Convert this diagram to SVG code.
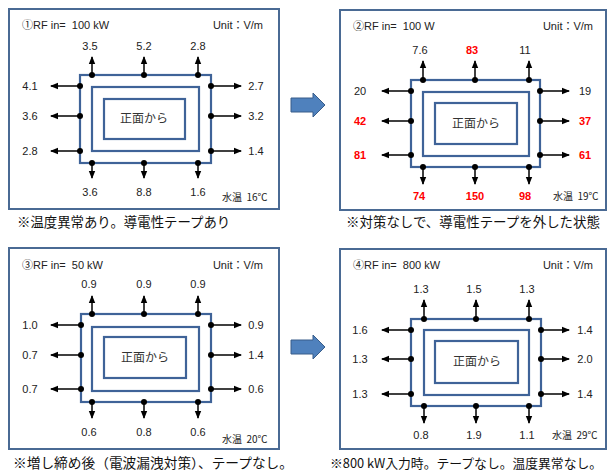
<svg xmlns="http://www.w3.org/2000/svg" width="607" height="473" viewBox="0 0 607 473">
<defs>
<marker id="ah" viewBox="0 0 8 8" refX="7" refY="4" markerWidth="8" markerHeight="8" markerUnits="userSpaceOnUse" orient="auto">
<path d="M0,0.8 L8,4 L0,7.2 Z" fill="#000"/>
</marker>
<style>
.frame{fill:#fff;stroke:#4a6a94;stroke-width:2}
.box{fill:none;stroke:#3f6398;stroke-width:2.2}
.ln{stroke:#000;stroke-width:1.5;fill:none;marker-end:url(#ah)}
.dot{fill:#000}
.t{font-family:"Liberation Sans","Noto Sans CJK JP",sans-serif;font-size:11px;fill:#222;white-space:pre}
.n{font-family:"Liberation Sans","Noto Sans CJK JP",sans-serif;font-size:11px;fill:#222;text-anchor:middle}
.r{fill:#ff0000;font-weight:bold}
.jp{font-family:"Noto Sans CJK JP",sans-serif;font-size:12px;fill:#333;text-anchor:middle}
.cap{font-family:"Noto Sans CJK JP",sans-serif;font-size:13.4px;fill:#111}
.w{font-family:"Noto Sans CJK JP",sans-serif;font-size:10px;fill:#222;white-space:pre}
.big{fill:#4f81bd;stroke:#385d8a;stroke-width:1}
</style>
</defs>
<rect width="607" height="473" fill="#fff"/>

<g id="panel1">
<rect class="frame" x="9" y="9" width="270" height="200"/>
<text class="t" x="22" y="29">①RF in=  100 kW</text>
<text class="t" x="263" y="29" text-anchor="end">Unit：V/m</text>
<rect class="box" x="80" y="75" width="131" height="88"/>
<rect class="box" x="92" y="87" width="107" height="64"/>
<rect class="box" x="104" y="99" width="81" height="40"/>
<text class="jp" x="144" y="123">正面から</text>
<g class="conn">
<line class="ln" x1="92" y1="75" x2="92" y2="57"/><line class="ln" x1="144" y1="75" x2="144" y2="57"/><line class="ln" x1="198" y1="75" x2="198" y2="57"/>
<line class="ln" x1="80" y1="86" x2="51" y2="86"/><line class="ln" x1="80" y1="116" x2="51" y2="116"/><line class="ln" x1="80" y1="151" x2="51" y2="151"/>
<line class="ln" x1="211" y1="86" x2="241" y2="86"/><line class="ln" x1="211" y1="116" x2="241" y2="116"/><line class="ln" x1="211" y1="151" x2="241" y2="151"/>
<line class="ln" x1="92" y1="163" x2="92" y2="178"/><line class="ln" x1="144" y1="163" x2="144" y2="178"/><line class="ln" x1="198" y1="163" x2="198" y2="178"/>
</g>
<g class="dot">
<circle cx="92" cy="75" r="3"/><circle cx="144" cy="75" r="3"/><circle cx="198" cy="75" r="3"/>
<circle cx="80" cy="86" r="3"/><circle cx="80" cy="116" r="3"/><circle cx="80" cy="151" r="3"/>
<circle cx="211" cy="86" r="3"/><circle cx="211" cy="116" r="3"/><circle cx="211" cy="151" r="3"/>
<circle cx="92" cy="163" r="3"/><circle cx="144" cy="163" r="3"/><circle cx="198" cy="163" r="3"/>
</g>
<text class="n" x="90" y="50">3.5</text><text class="n" x="144" y="50">5.2</text><text class="n" x="198" y="50">2.8</text>
<text class="n" x="30" y="90">4.1</text><text class="n" x="30" y="120">3.6</text><text class="n" x="30" y="155">2.8</text>
<text class="n" x="256" y="90">2.7</text><text class="n" x="256" y="120">3.2</text><text class="n" x="256" y="155">1.4</text>
<text class="n" x="90" y="196">3.6</text><text class="n" x="144" y="196">8.8</text><text class="n" x="198" y="196">1.6</text>
<text class="w" x="222" y="201">水温  16℃</text>
<text class="cap" x="17" y="227">※温度異常あり。導電性テープあり</text>
</g>

<g id="panel2">
<rect class="frame" x="340" y="10" width="266" height="200"/>
<text class="t" x="353" y="30">②RF in=  100 W</text>
<text class="t" x="593" y="30" text-anchor="end">Unit：V/m</text>
<rect class="box" x="411" y="80" width="129" height="87"/>
<rect class="box" x="423" y="92" width="106" height="64"/>
<rect class="box" x="435" y="103" width="82" height="41"/>
<text class="jp" x="476" y="128">正面から</text>
<g class="conn">
<line class="ln" x1="423" y1="80" x2="423" y2="61"/><line class="ln" x1="475" y1="80" x2="475" y2="61"/><line class="ln" x1="529" y1="80" x2="529" y2="61"/>
<line class="ln" x1="411" y1="91" x2="382" y2="91"/><line class="ln" x1="411" y1="121" x2="382" y2="121"/><line class="ln" x1="411" y1="155" x2="382" y2="155"/>
<line class="ln" x1="540" y1="91" x2="569" y2="91"/><line class="ln" x1="540" y1="121" x2="569" y2="121"/><line class="ln" x1="540" y1="155" x2="569" y2="155"/>
<line class="ln" x1="423" y1="167" x2="423" y2="184"/><line class="ln" x1="475" y1="167" x2="475" y2="184"/><line class="ln" x1="529" y1="167" x2="529" y2="184"/>
</g>
<g class="dot">
<circle cx="423" cy="80" r="3"/><circle cx="475" cy="80" r="3"/><circle cx="529" cy="80" r="3"/>
<circle cx="411" cy="91" r="3"/><circle cx="411" cy="121" r="3"/><circle cx="411" cy="155" r="3"/>
<circle cx="540" cy="91" r="3"/><circle cx="540" cy="121" r="3"/><circle cx="540" cy="155" r="3"/>
<circle cx="423" cy="167" r="3"/><circle cx="475" cy="167" r="3"/><circle cx="529" cy="167" r="3"/>
</g>
<text class="n" x="420" y="54">7.6</text><text class="n r" x="472" y="54">83</text><text class="n" x="525" y="54">11</text>
<text class="n" x="360" y="95">20</text><text class="n r" x="360" y="125">42</text><text class="n r" x="360" y="159">81</text>
<text class="n" x="585" y="95">19</text><text class="n r" x="585" y="125">37</text><text class="n r" x="585" y="159">61</text>
<text class="n r" x="419" y="200">74</text><text class="n r" x="475" y="200">150</text><text class="n r" x="525" y="200">98</text>
<text class="w" x="553" y="200">水温  19℃</text>
<text class="cap" x="346" y="227" textLength="254" lengthAdjust="spacingAndGlyphs">※対策なしで、導電性テープを外した状態</text>
</g>

<g id="panel3">
<rect class="frame" x="9" y="248" width="270" height="201"/>
<text class="t" x="22" y="269">③RF in=  50 kW</text>
<text class="t" x="263" y="269" text-anchor="end">Unit：V/m</text>
<rect class="box" x="81" y="314" width="130" height="88"/>
<rect class="box" x="92" y="327" width="107" height="64"/>
<rect class="box" x="104" y="337" width="82" height="41"/>
<text class="jp" x="145" y="362">正面から</text>
<g class="conn">
<line class="ln" x1="92" y1="314" x2="92" y2="296"/><line class="ln" x1="144" y1="314" x2="144" y2="296"/><line class="ln" x1="198" y1="314" x2="198" y2="296"/>
<line class="ln" x1="81" y1="325" x2="51" y2="325"/><line class="ln" x1="81" y1="355" x2="51" y2="355"/><line class="ln" x1="81" y1="389" x2="51" y2="389"/>
<line class="ln" x1="211" y1="325" x2="241" y2="325"/><line class="ln" x1="211" y1="355" x2="241" y2="355"/><line class="ln" x1="211" y1="389" x2="241" y2="389"/>
<line class="ln" x1="92" y1="402" x2="92" y2="418"/><line class="ln" x1="144" y1="402" x2="144" y2="418"/><line class="ln" x1="198" y1="402" x2="198" y2="418"/>
</g>
<g class="dot">
<circle cx="92" cy="314" r="3"/><circle cx="144" cy="314" r="3"/><circle cx="198" cy="314" r="3"/>
<circle cx="81" cy="325" r="3"/><circle cx="81" cy="355" r="3"/><circle cx="81" cy="389" r="3"/>
<circle cx="211" cy="325" r="3"/><circle cx="211" cy="355" r="3"/><circle cx="211" cy="389" r="3"/>
<circle cx="92" cy="402" r="3"/><circle cx="144" cy="402" r="3"/><circle cx="198" cy="402" r="3"/>
</g>
<text class="n" x="89" y="288">0.9</text><text class="n" x="144" y="288">0.9</text><text class="n" x="198" y="288">0.9</text>
<text class="n" x="30" y="329">1.0</text><text class="n" x="30" y="359">0.7</text><text class="n" x="30" y="393">0.7</text>
<text class="n" x="256" y="329">0.9</text><text class="n" x="256" y="359">1.4</text><text class="n" x="256" y="393">0.6</text>
<text class="n" x="89" y="436">0.6</text><text class="n" x="144" y="436">0.8</text><text class="n" x="198" y="436">0.6</text>
<text class="w" x="222" y="443">水温  20℃</text>
<text class="cap" x="13" y="468" textLength="280" lengthAdjust="spacingAndGlyphs">※増し締め後（電波漏洩対策）、テープなし。</text>
</g>

<g id="panel4">
<rect class="frame" x="340" y="249" width="266" height="200"/>
<text class="t" x="353" y="269">④RF in=  800 kW</text>
<text class="t" x="593" y="269" text-anchor="end">Unit：V/m</text>
<rect class="box" x="411" y="319" width="130" height="87"/>
<rect class="box" x="424" y="330" width="105" height="65"/>
<rect class="box" x="435" y="341" width="83" height="42"/>
<text class="jp" x="477" y="366">正面から</text>
<g class="conn">
<line class="ln" x1="424" y1="319" x2="424" y2="300"/><line class="ln" x1="476" y1="319" x2="476" y2="300"/><line class="ln" x1="529" y1="319" x2="529" y2="300"/>
<line class="ln" x1="411" y1="330" x2="382" y2="330"/><line class="ln" x1="411" y1="359" x2="382" y2="359"/><line class="ln" x1="411" y1="394" x2="382" y2="394"/>
<line class="ln" x1="541" y1="330" x2="569" y2="330"/><line class="ln" x1="541" y1="359" x2="569" y2="359"/><line class="ln" x1="541" y1="394" x2="569" y2="394"/>
<line class="ln" x1="424" y1="406" x2="424" y2="423"/><line class="ln" x1="476" y1="406" x2="476" y2="423"/><line class="ln" x1="529" y1="406" x2="529" y2="423"/>
</g>
<g class="dot">
<circle cx="424" cy="319" r="3"/><circle cx="476" cy="319" r="3"/><circle cx="529" cy="319" r="3"/>
<circle cx="411" cy="330" r="3"/><circle cx="411" cy="359" r="3"/><circle cx="411" cy="394" r="3"/>
<circle cx="541" cy="330" r="3"/><circle cx="541" cy="359" r="3"/><circle cx="541" cy="394" r="3"/>
<circle cx="424" cy="406" r="3"/><circle cx="476" cy="406" r="3"/><circle cx="529" cy="406" r="3"/>
</g>
<text class="n" x="421" y="293">1.3</text><text class="n" x="474" y="293">1.5</text><text class="n" x="527" y="293">1.3</text>
<text class="n" x="360" y="334">1.6</text><text class="n" x="360" y="363">1.3</text><text class="n" x="360" y="398">1.3</text>
<text class="n" x="585" y="334">1.4</text><text class="n" x="585" y="363">2.0</text><text class="n" x="585" y="398">1.4</text>
<text class="n" x="421" y="439">0.8</text><text class="n" x="474" y="439">1.9</text><text class="n" x="527" y="439">1.1</text>
<text class="w" x="552" y="439">水温  29℃</text>
<text class="cap" x="330" y="468" style="font-size:12.8px">※800 kW入力時。テープなし。温度異常なし。</text>
</g>

<g id="connectors">
<path class="big" d="M291,98 L313,98 L313,93 L325,105 L313,117 L313,112 L291,112 Z"/>
<path class="big" d="M291,340 L313,340 L313,335 L325,347 L313,359 L313,354 L291,354 Z"/>
</g>
</svg>
